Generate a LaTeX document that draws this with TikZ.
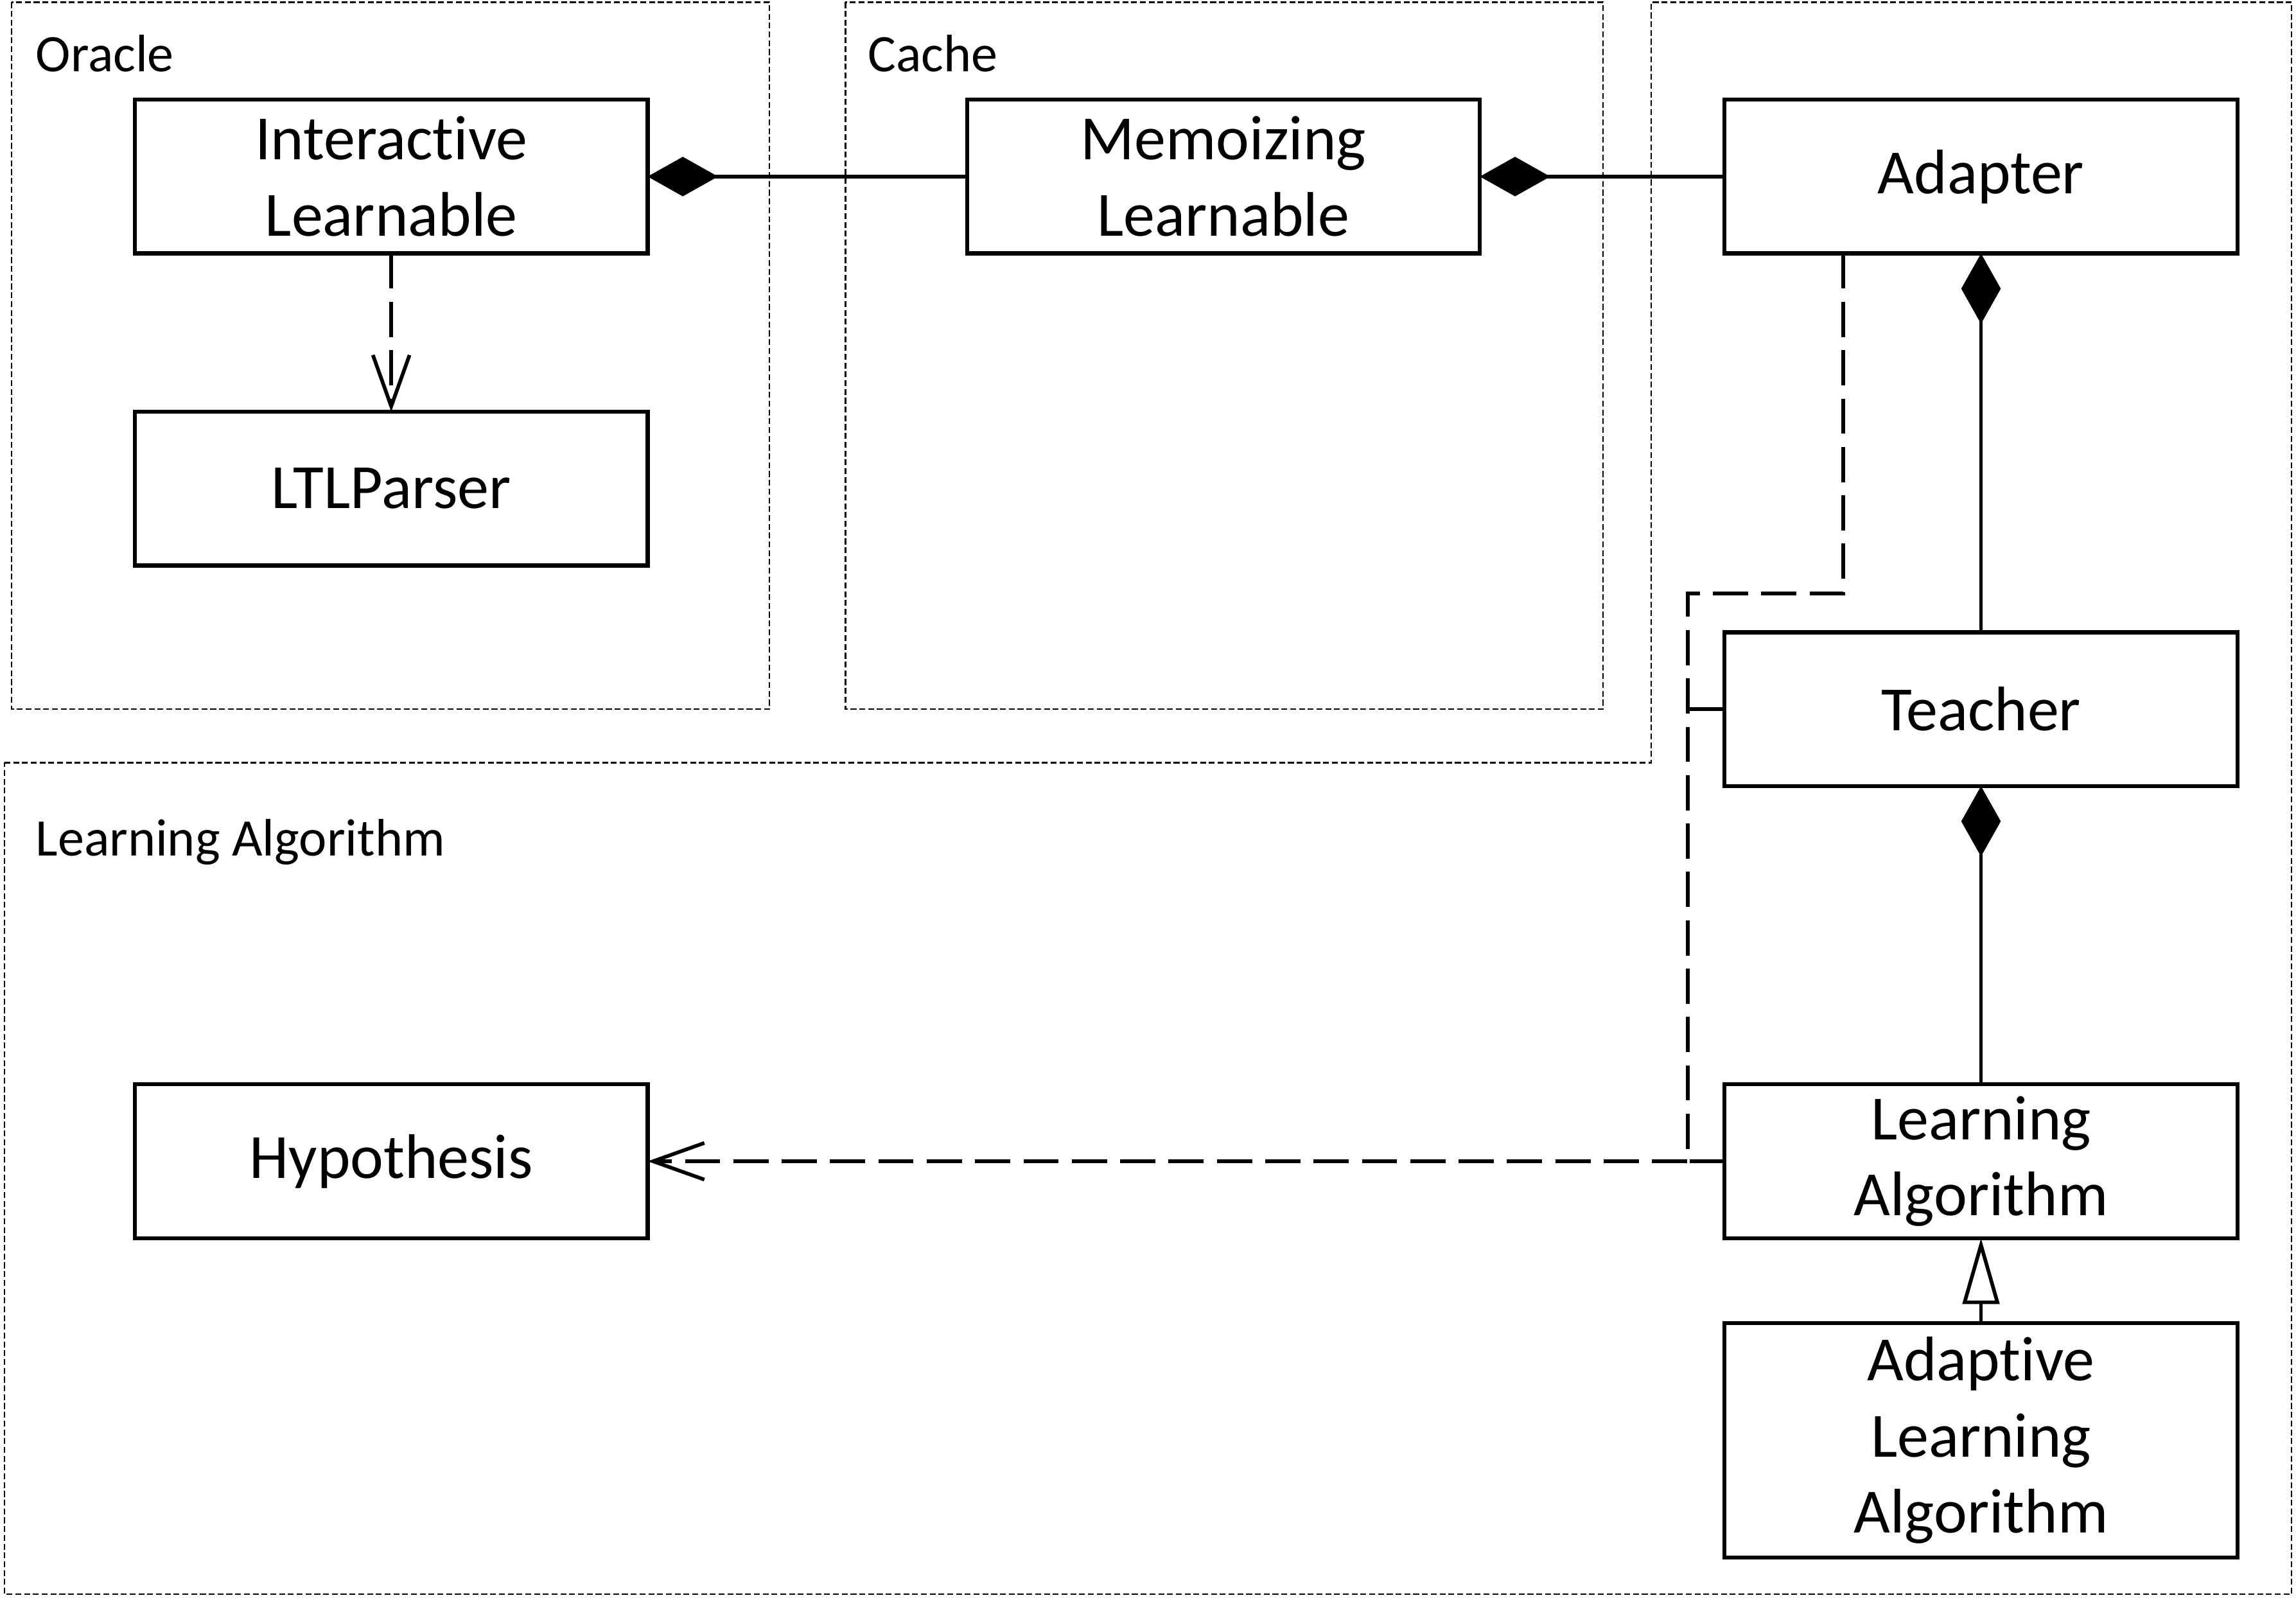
\documentclass[tikz,border=0pt]{standalone}
\usepackage{fontspec}
\setmainfont{Carlito}[Ligatures={NoCommon,NoContextual}]
\usetikzlibrary{arrows.meta}
\begin{document}
\begin{tikzpicture}[x=0.5pt,y=-0.5pt,
 box/.style={draw,line width=1.4pt,rectangle,inner sep=0pt,outer sep=0pt,minimum width=175pt,minimum height=52.5pt,align=center,font=\fontsize{21.5}{26}\selectfont},
 pkg/.style={draw,line width=0.5pt,dash pattern=on 2pt off 1pt},
 pkglabel/.style={anchor=base west,inner sep=0pt,font=\fontsize{18}{22}\selectfont},
 comp/.style={line width=1.25pt,-{Diamond[length=24pt,width=13.5pt]}},
 dep/.style={line width=1.25pt,dash pattern=on 12pt off 4.5pt},
 deparrow/.style={dep,-{Straight Barb[length=17.5pt,width=12.5pt]}},
 gen/.style={line width=1.25pt,-{Triangle[open,length=22.5pt,width=12.5pt,fill=white]}}]
\useasboundingbox (0,0) rectangle (1567,1090.5);
% packages
\draw[pkg] (8,1.5) rectangle (525,484);
\draw[pkg] (577,1.5) rectangle (1094,484);
\draw[pkg] (3,520.5) -- (1127,520.5) -- (1127,1.5) -- (1564,1.5) -- (1564,1088) -- (3,1088) -- cycle;
\node[pkglabel] (lor) at (24,49) {Oracle};
\node[pkglabel] (lca) at (592,49) {Cache};
\node[pkglabel] (lla) at (24,584) {Learning Algorithm};
% classes
\node[box] (ia) at (267,120.5) {Interactive\\Learnable};
\node[box] (ltl) at (267,333.5) {LTLParser};
\node[box] (mem) at (835,120.5) {Memoizing\\Learnable};
\node[box] (adp) at (1352,120.5) {Adapter};
\node[box] (tea) at (1352,484) {Teacher};
\node[box] (hyp) at (267,792.5) {Hypothesis};
\node[box] (la) at (1352,792.5) {Learning\\Algorithm};
\node[box,minimum height=80pt] (ala) at (1352,983) {Adaptive\\Learning\\Algorithm};
% connectors
\draw[comp] (mem.west) -- (ia.east);
\draw[comp] (adp.west) -- (mem.east);
\draw[comp] (tea.north) -- (adp.south);
\draw[comp] (la.north) -- (tea.south);
\draw[gen] (ala.north) -- (la.south);
\draw[deparrow] (ia.south) -- (ltl.north);
\coordinate (bendA) at (1258,405);
\coordinate (bendB) at (1152,405);
\draw[deparrow] (bendA |- adp.south) -- (bendA) -- (bendB) -- (bendB |- hyp.east) -- (hyp.east);
\draw[dep] (tea.west) -- (bendB |- tea.west);
\draw[dep] (la.west) -- (bendB |- la.west);
\end{tikzpicture}
\end{document}
